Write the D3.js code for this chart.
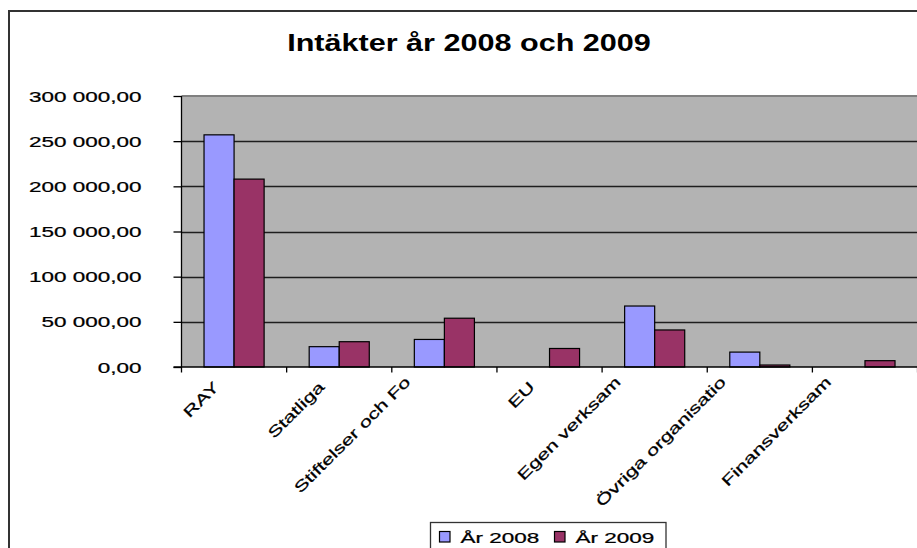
<!DOCTYPE html>
<html>

<head>
    <meta charset="utf-8">
    <title>Intäkter år 2008 och 2009</title>
    <script src="https://d3js.org/d3.v7.min.js"></script>
    <style>
        body { margin: 0; background: #fff; }
        text { font-family: "Liberation Sans", Arial, sans-serif; fill: #000; }
        .lbl { stroke: #000; stroke-width: 0.25px; }
    </style>
</head>

<body>
    <div id="wrapper"></div>

    <script>
        // labels as they show in the chart (long ones are cut off)
        const categories = ["RAY", "Statliga", "Stiftelser och Fo", "EU", "Egen verksam", "Övriga organisatio", "Finansverksam"];
        const seriesNames = ["År 2008", "År 2009"];
        const values2008 = [257000, 22500, 30500, 0, 67500, 16500, 0];
        const values2009 = [208000, 28000, 54000, 20500, 41000, 2200, 7000];
        const yTicks = [0, 50000, 100000, 150000, 200000, 250000, 300000];
        const colors = ["#9999ff", "#993366"];

        const dimensions = {
            width: 917,
            height: 548,
            margin: { top: 96, right: -1, bottom: 181, left: 181.5 }
        };
        dimensions.boundedWidth = 7 * 105.15;
        dimensions.boundedHeight = dimensions.height - dimensions.margin.top - dimensions.margin.bottom;

        // text in the picture is drawn wider than normal
        const stretch = 1.46;

        const svg = d3.select("#wrapper").append("svg").attr("width", dimensions.width).attr("height", dimensions.height);

        // chart area border
        svg.append("rect").attr("x", 9).attr("y", 11).attr("width", 1000).attr("height", 600)
            .attr("fill", "#fff").attr("stroke", "#333").attr("stroke-width", 2);

        svg.append("text").attr("text-anchor", "middle")
            .attr("transform", `translate(469, 50.5) scale(1.33, 1)`)
            .style("font-weight", "bold").style("font-size", "23px")
            .text("Intäkter år 2008 och 2009");

        const bounds = svg.append("g").attr("transform", `translate(${dimensions.margin.left}, ${dimensions.margin.top})`);

        const yScale = d3.scaleLinear().domain([0, 300000]).range([dimensions.boundedHeight, 0]);
        const xScale = d3.scaleBand().domain(categories).range([0, dimensions.boundedWidth]);
        const xSeries = d3.scaleBand().domain(seriesNames).range([0, xScale.bandwidth()]).paddingInner(0).paddingOuter(0.75);

        bounds.append("rect").attr("width", dimensions.boundedWidth + 10).attr("height", dimensions.boundedHeight).attr("fill", "#b3b3b3");

        // grid lines
        bounds.selectAll(".grid").data(yTicks.filter(d => d > 0 && d < 300000)).join("line")
            .attr("x1", 0).attr("x2", dimensions.boundedWidth + 10)
            .attr("y1", d => Math.round(yScale(d)) + 0.5).attr("y2", d => Math.round(yScale(d)) + 0.5)
            .attr("stroke", "#1e1e1e").attr("stroke-width", 1.6);
        bounds.append("line").attr("x1", 0).attr("x2", dimensions.boundedWidth + 10).attr("y1", 0).attr("y2", 0)
            .attr("stroke", "#808080").attr("stroke-width", 2);

        const data = categories.map((c, i) => ({ category: c, values: [values2008[i], values2009[i]] }));

        const groups = bounds.selectAll(".group").data(data).join("g")
            .attr("transform", d => `translate(${xScale(d.category)}, 0)`);
        groups.selectAll("rect").data(d => d.values.map((v, i) => ({ name: seriesNames[i], value: v, i: i })).filter(d => d.value > 0)).join("rect")
            .attr("x", d => xSeries(d.name))
            .attr("width", xSeries.bandwidth())
            .attr("y", d => yScale(d.value))
            .attr("height", d => yScale(0) - yScale(d.value))
            .attr("fill", d => colors[d.i])
            .attr("stroke", "#000").attr("stroke-width", 1.2);

        // y axis
        const locale = d3.formatLocale({ decimal: ",", thousands: " ", grouping: [3], currency: ["", ""] });
        const fmt = locale.format(",.2f");
        const yAxisGenerator = d3.axisLeft().scale(yScale).tickValues(yTicks).tickSize(8).tickFormat("");
        const yAxis = bounds.append("g").call(yAxisGenerator);
        yAxis.select(".domain").attr("stroke", "#000").attr("stroke-width", 1.3).attr("d", `M0,0V${dimensions.boundedHeight}`);
        yAxis.selectAll(".tick line").attr("stroke", "#000").attr("stroke-width", 1.3);

        bounds.selectAll(".ylabel").data(yTicks).join("text")
            .attr("class", "lbl")
            .attr("text-anchor", "end")
            .attr("transform", d => `translate(${141.5 - dimensions.margin.left}, ${yScale(d) + 5.5}) scale(${stretch}, 1)`)
            .style("font-size", "15.4px")
            .text(d => fmt(d));

        // x axis
        const xAxis = bounds.append("g").attr("transform", `translate(0, ${dimensions.boundedHeight})`);
        xAxis.append("line").attr("x1", -8).attr("x2", dimensions.boundedWidth + 10).attr("stroke", "#000").attr("stroke-width", 1.3);
        xAxis.selectAll(".xtick").data(d3.range(categories.length + 1)).join("line")
            .attr("x1", i => i * xScale.step()).attr("x2", i => i * xScale.step())
            .attr("y1", 0).attr("y2", 5.5).attr("stroke", "#000").attr("stroke-width", 1.3);

        xAxis.selectAll(".xlabel").data(categories).join("text")
            .attr("class", "lbl")
            .attr("text-anchor", "end")
            .attr("transform", d => {
                const cx = xScale(d) + xScale.bandwidth() / 2;
                const cut = d.length > 10;
                return `translate(${cx - (cut ? 33 : 14)}, ${cut ? 16 : 21}) rotate(-45) scale(1.45, 1)`;
            })
            .style("font-size", "15px")
            .text(d => d);

        // legend
        const legend = svg.append("g").attr("transform", "translate(430.5, 522.5)");
        legend.append("rect").attr("width", 235.5).attr("height", 60).attr("fill", "#fff").attr("stroke", "#333").attr("stroke-width", 1.3);
        const legendX = [9, 124];
        seriesNames.forEach((name, i) => {
            legend.append("rect").attr("x", legendX[i]).attr("y", 9).attr("width", 10.5).attr("height", 10.5)
                .attr("fill", colors[i]).attr("stroke", "#000").attr("stroke-width", 1.2);
            legend.append("text").attr("class", "lbl").attr("transform", `translate(${legendX[i] + 21}, 20) scale(1.5, 1)`)
                .style("font-size", "15px").text(name);
        });
    </script>
</body>

</html>
